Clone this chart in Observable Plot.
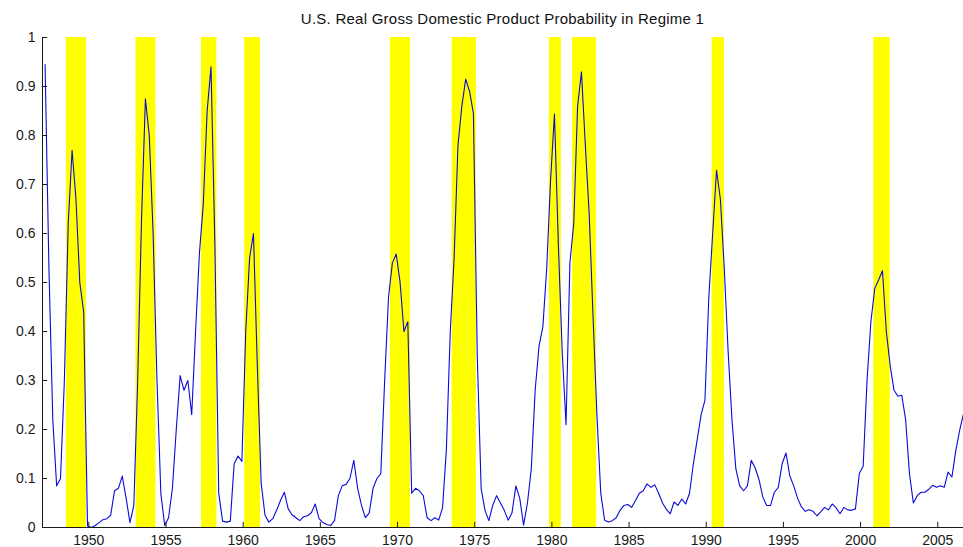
<!DOCTYPE html>
<html>
<head>
<meta charset="utf-8">
<script src="https://cdn.jsdelivr.net/npm/d3@7"></script>
<script src="https://cdn.jsdelivr.net/npm/@observablehq/plot@0.6"></script>
<style>
  html, body { margin: 0; padding: 0; background: #fff; }
  #wrap { width: 963px; height: 547px; overflow: hidden; font-family: "Liberation Sans", Arial, Helvetica, sans-serif; }
  #title { height: 30px; padding-top: 4px; line-height: 30px; font-size: 15px; letter-spacing: 0.25px; color: #111; text-align: center; padding-left: 42px; box-sizing: content-box; }
  svg { display: block; }
</style>
</head>
<body>
<div id="wrap">
  <div id="title">U.S. Real Gross Domestic Product Probability in Regime 1</div>
  <div id="chart"></div>
</div>
<script>
// Quarterly smoothed probability of regime 1, 1947Q1 .. 2006Q3
const firstYear = 1947;
const quarterOffset = 1 / 6; // observations are placed mid-quarter
const probRegime1 = [
  0.945, 0.53, 0.22, 0.085, 0.1, 0.3, 0.62, 0.77, 0.67, 0.5,
  0.44, 0.003, 0.0, 0.004, 0.01, 0.016, 0.018, 0.025, 0.075, 0.08,
  0.105, 0.06, 0.01, 0.045, 0.3, 0.63, 0.875, 0.8, 0.6, 0.3,
  0.07, 0.004, 0.02, 0.08, 0.2, 0.31, 0.28, 0.30, 0.23, 0.40,
  0.56, 0.66, 0.85, 0.94, 0.58, 0.07, 0.013, 0.011, 0.013, 0.13,
  0.146, 0.135, 0.4, 0.55, 0.6, 0.33, 0.09, 0.025, 0.011, 0.018,
  0.035, 0.055, 0.072, 0.038, 0.026, 0.02, 0.014, 0.022, 0.024, 0.03,
  0.048, 0.018, 0.01, 0.006, 0.004, 0.014, 0.065, 0.085, 0.088, 0.10,
  0.137, 0.08, 0.045, 0.02, 0.03, 0.08, 0.1, 0.11, 0.3, 0.47,
  0.54, 0.558, 0.5, 0.40, 0.42, 0.07, 0.08, 0.075, 0.065, 0.02,
  0.014, 0.02, 0.015, 0.04, 0.16, 0.4, 0.55, 0.78, 0.86, 0.915,
  0.89, 0.845, 0.35, 0.08, 0.035, 0.014, 0.045, 0.065, 0.05, 0.035,
  0.015, 0.03, 0.085, 0.06, 0.005, 0.05, 0.12, 0.28, 0.37, 0.41,
  0.53, 0.71, 0.844, 0.58, 0.36, 0.21, 0.54, 0.62, 0.86, 0.93,
  0.78, 0.64, 0.43, 0.23, 0.07, 0.015, 0.011, 0.014, 0.02, 0.035,
  0.045, 0.047, 0.041, 0.055, 0.07, 0.075, 0.089, 0.082, 0.087, 0.07,
  0.05, 0.037, 0.028, 0.052, 0.045, 0.058, 0.048, 0.07, 0.13, 0.18,
  0.23, 0.26, 0.47, 0.6, 0.729, 0.67, 0.53, 0.36, 0.22, 0.12,
  0.085, 0.075, 0.085, 0.137, 0.122, 0.098, 0.062, 0.045, 0.045, 0.072,
  0.082, 0.13, 0.152, 0.105, 0.085, 0.06, 0.042, 0.033, 0.036, 0.033,
  0.024, 0.032, 0.041, 0.036, 0.048, 0.04, 0.028, 0.041, 0.036, 0.035,
  0.038, 0.11, 0.125, 0.3, 0.42, 0.488, 0.505, 0.524, 0.4, 0.33,
  0.28, 0.268, 0.27, 0.22, 0.11, 0.05, 0.065, 0.072, 0.072, 0.078,
  0.086, 0.082, 0.085, 0.082, 0.113, 0.103, 0.157, 0.198, 0.232
];

// NBER recession shading (decimal years)
const recessionStart = [1948.55, 1953.06, 1957.30, 1960.10, 1969.54, 1973.54, 1979.84, 1981.34, 1990.38, 2000.86];
const recessionEnd   = [1949.85, 1954.35, 1958.30, 1961.13, 1970.84, 1975.11, 1980.61, 1982.90, 1991.18, 2001.92];

const xTicks = [1950, 1955, 1960, 1965, 1970, 1975, 1980, 1985, 1990, 1995, 2000, 2005];
const yTicks = [0, 0.1, 0.2, 0.3, 0.4, 0.5, 0.6, 0.7, 0.8, 0.9, 1];
const yTickLabels = ["0", "0.1", "0.2", "0.3", "0.4", "0.5", "0.6", "0.7", "0.8", "0.9", "1"];

const series = probRegime1.map((v, i) => ({ t: firstYear + quarterOffset + i / 4, v }));
const recessions = recessionStart.map((s, i) => ({ s, e: recessionEnd[i] }));
const xMax = series[series.length - 1].t;

const font = "Liberation Sans, Arial, Helvetica, sans-serif";
const ink = "#1a1a1a";

const chart = Plot.plot({
  width: 963,
  height: 513,
  marginLeft: 42,
  marginRight: 0,
  marginTop: 3,
  marginBottom: 20,
  style: { fontFamily: font, background: "#fff", overflow: "visible" },
  x: { domain: [firstYear, xMax], axis: null },
  y: { domain: [0, 1], axis: null },
  marks: [
    Plot.rect(recessions, { x1: "s", x2: "e", y1: 0, y2: 1, fill: "#ffff00" }),
    Plot.line(series, { x: "t", y: "v", stroke: "#0a0ad8", strokeWidth: 1.1 }),
    Plot.ruleX([firstYear], { y1: 0, y2: 1, stroke: ink, strokeWidth: 1 }),
    Plot.ruleY([0], { x1: firstYear, x2: xMax, stroke: ink, strokeWidth: 1 }),
    Plot.ruleX(xTicks, { y1: 0, y2: 0.0105, stroke: ink, strokeWidth: 1 }),
    Plot.ruleY(yTicks, { x1: firstYear, x2: firstYear + 0.33, stroke: ink, strokeWidth: 1 }),
    Plot.text(xTicks, { x: d => d, y: 0, dy: 13, text: d => String(d), fontSize: 14, fill: ink, textAnchor: "middle", lineAnchor: "middle" }),
    Plot.text(yTicks, { x: firstYear, y: d => d, dx: -7, text: (d, i) => yTickLabels[i], fontSize: 14, fill: ink, textAnchor: "end", lineAnchor: "middle" })
  ]
});
document.getElementById("chart").appendChild(chart);
</script>
</body>
</html>
